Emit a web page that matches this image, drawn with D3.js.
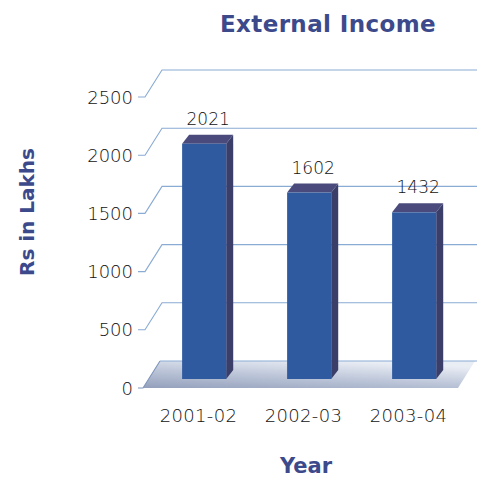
<!DOCTYPE html>
<html>
<head>
<meta charset="utf-8">
<script src="https://cdn.jsdelivr.net/npm/d3@7"></script>
<style>
  html, body { margin: 0; padding: 0; background: #fff; }
  svg { display: block; }
</style>
</head>
<body>
<svg id="chart" width="477" height="479"></svg>
<script>
// Annual external income, Rs in lakhs
const years = ["2001-02", "2002-03", "2003-04"];
const income = [2021, 1602, 1432];
const yTicks = [0, 500, 1000, 1500, 2000, 2500];

const svg = d3.select("#chart");
const W = 477;

// Oblique projection: the back wall sits up and to the right of the front plane
const DEPTH_X = 17, DEPTH_Y = -27;
const BAR_T = 1 / 3;                 // bars stand a third of the way into the floor
const BAR_DX = 7, BAR_DY = -9;       // extrusion of each bar

const y = d3.scaleLinear().domain([0, 2500]).range([388, 97]);
const x = d3.scaleBand().domain(years).range([146, 461])
  .paddingInner(0.58).paddingOuter(0.29);

const navy = "#3c4a8c";
const gridCol = "#8aabd4";
const labelFont = "DejaVu Sans, sans-serif";

// Floor gradient
const defs = svg.append("defs");
const fg = defs.append("linearGradient").attr("id", "floorGrad")
  .attr("x1", "0").attr("y1", "1").attr("x2", "0.6").attr("y2", "0");
fg.append("stop").attr("offset", "0").attr("stop-color", "#939fbb");
fg.append("stop").attr("offset", "0.55").attr("stop-color", "#c0c9db");
fg.append("stop").attr("offset", "1").attr("stop-color", "#e9edf4");

// Floor at value 0
const fx0 = 143, fx1 = 458;
svg.append("path")
  .attr("d", d3.line()([
    [fx0, y(0)], [fx1, y(0)],
    [fx1 + DEPTH_X, y(0) + DEPTH_Y], [fx0 + DEPTH_X, y(0) + DEPTH_Y]
  ]) + "Z")
  .attr("fill", "url(#floorGrad)");

// Back-wall gridlines with the oblique side wall segment and axis ticks
const grid = svg.append("g");
yTicks.forEach(v => {
  const yf = y(v), yb = y(v) + DEPTH_Y;
  const pts = v === 0
    ? [[138, yf], [fx0, yf], [fx0 + DEPTH_X, yb]]
    : [[138, yf], [145, yf], [145 + DEPTH_X, yb], [W, yb]];
  grid.append("path")
    .attr("d", d3.line()(pts))
    .attr("fill", "none")
    .attr("stroke", v === 0 ? "#7f95bb" : gridCol)
    .attr("stroke-width", 1.1);
});
// back edge of the floor
svg.append("line")
  .attr("x1", fx0 + DEPTH_X).attr("x2", W)
  .attr("y1", y(0) + DEPTH_Y).attr("y2", y(0) + DEPTH_Y)
  .attr("stroke", gridCol).attr("stroke-width", 1);

// Y tick labels
svg.append("g").selectAll("text").data(yTicks).join("text")
  .attr("x", 133)
  .attr("y", d => y(d) + 6.5)
  .attr("text-anchor", "end")
  .attr("font-family", labelFont)
  .attr("font-size", 18)
  .attr("font-weight", 200)
  .attr("fill", "#111")
  .text(d => d);

// Bars (front, side, top faces)
const offX = BAR_T * DEPTH_X, offY = BAR_T * DEPTH_Y;
const bars = svg.append("g");
years.forEach((yr, i) => {
  const v = income[i];
  const x0 = x(yr) + offX, x1 = x0 + x.bandwidth();
  const yTop = y(v) + offY, yBot = y(0) + offY;
  // side
  bars.append("path")
    .attr("d", d3.line()([[x1, yBot], [x1, yTop], [x1 + BAR_DX, yTop + BAR_DY], [x1 + BAR_DX, yBot + BAR_DY]]) + "Z")
    .attr("fill", "#3b3e69");
  // top
  bars.append("path")
    .attr("d", d3.line()([[x0, yTop], [x1, yTop], [x1 + BAR_DX, yTop + BAR_DY], [x0 + BAR_DX, yTop + BAR_DY]]) + "Z")
    .attr("fill", "#4a4b7c");
  // front
  bars.append("rect")
    .attr("x", x0).attr("y", yTop)
    .attr("width", x.bandwidth()).attr("height", yBot - yTop)
    .attr("fill", "#2f5a9f");
  // value label
  bars.append("text")
    .attr("x", x0 + x.bandwidth() / 2 + 4)
    .attr("y", yTop - 19)
    .attr("text-anchor", "middle")
    .attr("font-family", labelFont)
    .attr("font-size", 17)
    .attr("font-weight", 200)
    .attr("fill", "#111")
    .text(v);
});

// Category labels
svg.append("g").selectAll("text").data(years).join("text")
  .attr("x", d => x(d) + x.bandwidth() / 2)
  .attr("y", 422)
  .attr("text-anchor", "middle")
  .attr("font-family", labelFont)
  .attr("font-size", 18)
  .attr("font-weight", 200)
  .attr("letter-spacing", 0.3)
  .attr("fill", "#111")
  .text(d => d);

// Titles
svg.append("text")
  .attr("x", 328).attr("y", 32)
  .attr("text-anchor", "middle")
  .attr("font-family", "DejaVu Sans, sans-serif")
  .attr("font-weight", "bold")
  .attr("font-size", 23)
  .attr("letter-spacing", 0.4)
  .attr("fill", navy)
  .text("External Income");

svg.append("text")
  .attr("transform", "translate(34,212) rotate(-90)")
  .attr("text-anchor", "middle")
  .attr("font-family", "DejaVu Sans, sans-serif")
  .attr("font-weight", "bold")
  .attr("font-size", 20)
  .attr("fill", navy)
  .text("Rs in Lakhs");

svg.append("text")
  .attr("x", 306).attr("y", 473)
  .attr("text-anchor", "middle")
  .attr("font-family", "DejaVu Sans, sans-serif")
  .attr("font-weight", "bold")
  .attr("font-size", 21)
  .attr("fill", navy)
  .text("Year");
</script>
</body>
</html>
